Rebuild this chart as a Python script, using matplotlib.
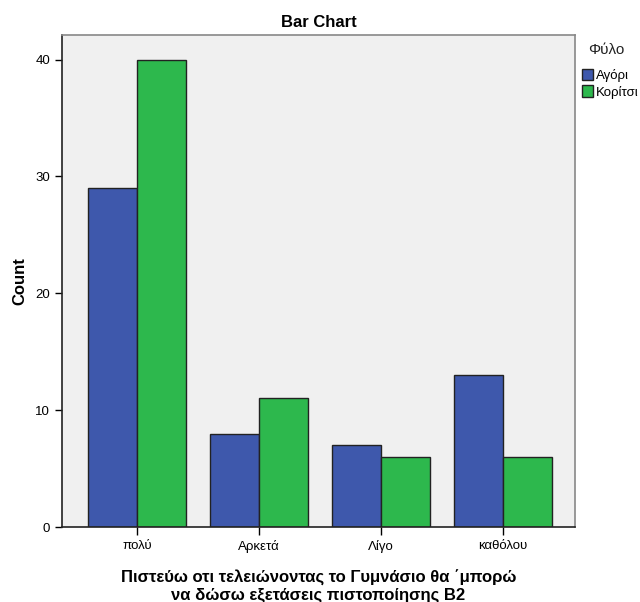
import numpy as np
import matplotlib.pyplot as plt

plt.rcParams['font.family'] = ['Liberation Sans', 'DejaVu Sans']

categories = ['πολύ', 'Αρκετά', 'Λίγο', 'καθόλου']
boys = [29, 8, 7, 13]
girls = [40, 11, 6, 6]

fig = plt.figure(figsize=(6.4, 6.02), dpi=100)
ax = fig.add_axes([62/640, 75/602, 513/640, 492/602])
ax.set_facecolor('#f0f0f0')

x = np.arange(len(categories))
w = 0.4
ax.bar(x - w/2, boys, w, color='#3e58ac', edgecolor='#222222', linewidth=1, label='Αγόρι')
ax.bar(x + w/2, girls, w, color='#2db84d', edgecolor='#222222', linewidth=1, label='Κορίτσι')

ax.set_xlim(-0.615, 3.59)
ax.set_ylim(0, 42.1)
ax.set_xticks(x)
ax.set_xticklabels(categories, fontsize=9.5)
ax.set_yticks([0, 10, 20, 30, 40])
ax.tick_params(axis='y', labelsize=9.5, length=5, width=1, direction='out')
ax.tick_params(axis='x', length=6, width=1, direction='out')

for s in ['left', 'bottom']:
    ax.spines[s].set_color('#222222')
    ax.spines[s].set_linewidth(1.2)
for s in ['top', 'right']:
    ax.spines[s].set_color('#888888')
    ax.spines[s].set_linewidth(1.2)

ax.set_title('Bar Chart', fontsize=12, fontweight='bold', pad=6)
ax.set_ylabel('Count', fontsize=12, fontweight='bold', labelpad=6)
ax.set_xlabel('Πιστεύω οτι τελειώνοντας το Γυμνάσιο θα ΄μπορώ\nνα δώσω εξετάσεις πιστοποίησης Β2',
              fontsize=12, fontweight='bold', labelpad=12, linespacing=1.15)

# legend title placed separately (SPSS style, more gap below it)
fig.text(606/640, 1 - 50/602, 'Φύλο', ha='center', va='center', fontsize=11, color='#222222')
leg = ax.legend(loc='upper left', bbox_to_anchor=(1.0, 0.945), frameon=False,
                fontsize=9.5, handlelength=0.9, handleheight=1.0,
                handletextpad=0.2, borderaxespad=0.3, borderpad=0.2, labelspacing=0.25)

plt.savefig('out.png', dpi=100)
